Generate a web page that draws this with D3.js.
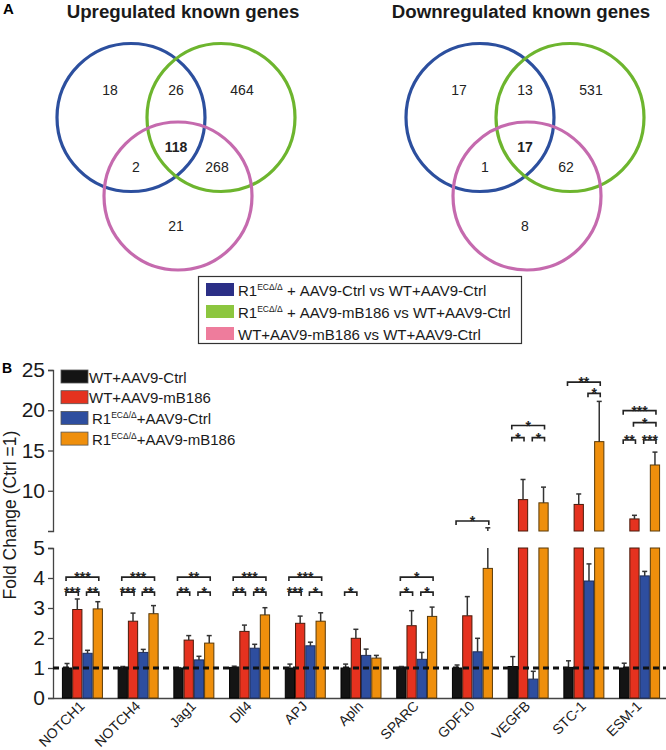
<!DOCTYPE html>
<html><head><meta charset="utf-8">
<script src="https://cdn.jsdelivr.net/npm/d3@7"></script>
<style>
body{margin:0;background:#fff;}
svg{display:block;font-family:"Liberation Sans",Arial,sans-serif;}
</style></head>
<body><svg id="c" width="666" height="750"></svg>
<script>
// ---------- Panel A data ----------
const vennTitles = ["Upregulated known genes", "Downregulated known genes"];
// region order: onlyA, AB, onlyB, ABC, AC, BC, onlyC
const vennUp = [18, 26, 464, 118, 2, 268, 21];
const vennDown = [17, 13, 531, 17, 1, 62, 8];
const vennSetColors = ["#2c4f9e", "#6db52e", "#c56aae"];
const legendANames = [
  ["R1", "ECΔ/Δ", " + AAV9-Ctrl vs WT+AAV9-Ctrl"],
  ["R1", "ECΔ/Δ", " + AAV9-mB186 vs WT+AAV9-Ctrl"],
  ["", "", "WT+AAV9-mB186 vs WT+AAV9-Ctrl"]
];
const legendAColors = ["#2b2f86", "#8cc63f", "#ee7c9c"];

// ---------- Panel B data ----------
const genes = ["NOTCH1","NOTCH4","Jag1","Dll4","APJ","Apln","SPARC","GDF10","VEGFB","STC-1","ESM-1"];
const seriesNames = [
  ["WT+AAV9-Ctrl"],
  ["WT+AAV9-mB186"],
  ["R1", "ECΔ/Δ", "+AAV9-Ctrl"],
  ["R1", "ECΔ/Δ", "+AAV9-mB186"]
];
const seriesColors = ["#141414", "#e5321f", "#2e4e9f", "#ef8f0c"];
const wtCtrl    = [1.00, 1.02, 1.00, 1.02, 1.00, 1.00, 1.02, 1.00, 1.05, 1.02, 1.00];
const wtCtrlErr = [1.15, 1.05, 1.01, 1.06, 1.13, 1.13, 1.05, 1.10, 1.38, 1.24, 1.16];
const wtMb      = [2.95, 2.56, 1.93, 2.22, 2.49, 1.99, 2.41, 2.74, 8.9, 8.3, 6.5];
const wtMbErr   = [3.30, 2.83, 2.08, 2.43, 2.73, 2.29, 2.91, 3.38, 11.4, 9.6, 6.95];
const r1Ctrl    = [1.49, 1.52, 1.27, 1.66, 1.74, 1.42, 1.29, 1.54, 0.63, 3.9, 4.07];
const r1CtrlErr = [1.59, 1.62, 1.39, 1.79, 1.86, 1.63, 1.52, 1.99, 0.89, 4.47, 4.22];
const r1Mb      = [2.97, 2.81, 1.83, 2.77, 2.56, 1.33, 2.72, 4.32, 8.5, 16.1, 13.2];
const r1MbErr   = [3.21, 3.08, 2.08, 3.01, 2.84, 1.42, 3.03, 5.4, 10.45, 21.1, 14.8];
const lowTicks = [0, 1, 2, 3, 4, 5];
const highTicks = [10, 15, 20, 25];
// significance brackets: gene, from series, to series, level (fold change), label
const sig = [
  ["NOTCH1",0,3,4.03,"***"],["NOTCH1",0,1,3.53,"***"],["NOTCH1",2,3,3.53,"**"],
  ["NOTCH4",0,3,4.03,"***"],["NOTCH4",0,1,3.53,"***"],["NOTCH4",2,3,3.53,"**"],
  ["Jag1",0,3,4.03,"**"],["Jag1",0,1,3.53,"**"],["Jag1",2,3,3.53,"*"],
  ["Dll4",0,3,4.03,"***"],["Dll4",0,1,3.53,"**"],["Dll4",2,3,3.53,"**"],
  ["APJ",0,3,4.03,"***"],["APJ",0,1,3.53,"***"],["APJ",2,3,3.53,"*"],
  ["Apln",0,1,3.53,"*"],
  ["SPARC",0,3,4.03,"*"],["SPARC",0,1,3.53,"*"],["SPARC",2,3,3.53,"*"],
  ["GDF10",0,3,6.24,"*"],
  ["VEGFB",0,3,18.1,"*"],["VEGFB",0,1,16.6,"*"],["VEGFB",2,3,16.6,"*"],
  ["STC-1",0,3,23.5,"**"],["STC-1",2,3,22.1,"*"],
  ["ESM-1",0,3,19.95,"***"],["ESM-1",1,3,18.46,"*"],["ESM-1",0,1,16.3,"**"],["ESM-1",2,3,16.3,"***"]
];

const svg = d3.select("#c");
const FONT = '"Liberation Sans",Arial,sans-serif';

// ================= Panel A =================
svg.append("text").attr("x", 3).attr("y", 14).attr("font-size", 15).attr("font-weight", "bold").text("A");
const vennCenters = [[131, 117.5], [221, 117.5], [178, 196]];
const vennR = 74;
const labelPos = [[110, 90], [176, 90], [242, 90], [176, 147], [136, 167], [217, 167], [176, 226]];
[[vennUp, 0, 183], [vennDown, 349, 521]].forEach(([vals, dx, tx], k) => {
  svg.append("text").attr("x", tx).attr("y", 18).attr("text-anchor", "middle")
    .attr("font-size", 18.7).attr("font-weight", "bold").attr("fill", "#1a1a1a").text(vennTitles[k]);
  const g = svg.append("g").attr("transform", `translate(${dx},0)`);
  g.selectAll("circle").data(vennCenters).join("circle")
    .attr("cx", d => d[0]).attr("cy", d => d[1]).attr("r", vennR)
    .attr("fill", "none").attr("stroke", (d, i) => vennSetColors[i]).attr("stroke-width", 3.2);
  g.selectAll("text").data(vals).join("text")
    .attr("x", (d, i) => labelPos[i][0]).attr("y", (d, i) => labelPos[i][1] + 5)
    .attr("text-anchor", "middle").attr("font-size", 14)
    .attr("font-weight", (d, i) => i === 3 ? "bold" : "normal").attr("fill", "#222").text(d => d);
});
// legend A
svg.append("rect").attr("x", 198.5).attr("y", 276.5).attr("width", 323).attr("height", 67)
  .attr("fill", "#fff").attr("stroke", "#333").attr("stroke-width", 1.2);
legendANames.forEach((nm, i) => {
  const y = 283 + i * 22;
  svg.append("rect").attr("x", 206).attr("y", y).attr("width", 28).attr("height", 13).attr("fill", legendAColors[i]);
  const t = svg.append("text").attr("x", 238).attr("y", y + 13).attr("font-size", 15).attr("fill", "#1a1a1a");
  if (nm[0]) {
    t.append("tspan").text(nm[0]);
    t.append("tspan").attr("font-size", 8.5).attr("dy", -6).text(nm[1]);
    t.append("tspan").attr("dy", 6).text(nm[2]);
  } else t.text(nm[2]);
});

// ================= Panel B =================
svg.append("text").attr("x", 2).attr("y", 373).attr("font-size", 14).attr("font-weight", "bold").text("B");
const yLow = d3.scaleLinear().domain([0, 5]).range([698, 548]);
const yHigh = d3.scaleLinear().domain([5, 25]).range([531, 370]);
const x = d3.scaleBand().domain(genes).range([53, 669]).paddingInner(0.264).paddingOuter(0.16);
const xs = d3.scaleBand().domain([0, 1, 2, 3]).range([0, x.bandwidth()]);
const vals = [wtCtrl, wtMb, r1Ctrl, r1Mb];
const errs = [wtCtrlErr, wtMbErr, r1CtrlErr, r1MbErr];
const strokes = ["#000", "#4a1a0a", "#1e2d5c", "#5a3a08"];

const axisColor = "#444";
function styleAxis(g) {
  g.selectAll("path,line").attr("stroke", axisColor).attr("stroke-width", 1.3);
  g.selectAll("text").attr("font-size", 21).attr("fill", "#1a1a1a").attr("font-family", FONT);
}
svg.append("g").attr("transform", "translate(53,0)")
  .call(d3.axisLeft(yLow).tickValues(lowTicks).tickFormat(d3.format("d")).tickSize(5).tickSizeOuter(5).tickPadding(3))
  .call(styleAxis);
svg.append("g").attr("transform", "translate(53,0)")
  .call(d3.axisLeft(yHigh).tickValues(highTicks).tickFormat(d3.format("d")).tickSize(5).tickSizeOuter(5).tickPadding(3))
  .call(styleAxis);
const xg = svg.append("g").attr("transform", "translate(0,698)")
  .call(d3.axisBottom(x).tickSize(0).tickSizeOuter(0).tickFormat(""));
xg.select(".domain").attr("stroke", axisColor).attr("stroke-width", 1.3);

// rotated gene labels
svg.append("g").selectAll("text").data(genes).join("text")
  .attr("text-anchor", "end").attr("font-size", 14).attr("fill", "#1a1a1a")
  .attr("transform", d => `translate(${x(d) + x.bandwidth() / 2 + 3},707) rotate(-45)`)
  .text(d => d);

svg.append("text").attr("transform", "translate(16,515) rotate(-90)").attr("text-anchor", "middle")
  .attr("font-size", 17.5).attr("fill", "#1a1a1a").text("Fold Change (Ctrl =1)");

// bars
const bars = svg.append("g");
genes.forEach((gname, gi) => {
  vals.forEach((arr, s) => {
    const v = arr[gi], bx = x(gname) + xs(s), bw = xs.bandwidth();
    const pieces = v <= 5 ? [[yLow(v), yLow(0)]] : [[yLow(5), yLow(0)], [yHigh(v), yHigh(5)]];
    pieces.forEach(([t, b]) => {
      bars.append("rect").attr("x", bx + 0.5).attr("y", t).attr("width", bw - 1).attr("height", b - t)
        .attr("fill", seriesColors[s]).attr("stroke", strokes[s]).attr("stroke-width", 1);
    });
    // error bar
    const e = errs[s][gi], cx = bx + bw / 2;
    const segs = [];
    if (v < 5) segs.push([yLow(v), yLow(Math.min(e, 5))]);
    if (e > 5) segs.push([yHigh(Math.max(v, 5)), yHigh(e)]);
    segs.forEach(([a, b]) => bars.append("line").attr("x1", cx).attr("x2", cx).attr("y1", a).attr("y2", b)
      .attr("stroke", "#333").attr("stroke-width", 1.5));
    const ey = e <= 5 ? yLow(e) : yHigh(e);
    bars.append("line").attr("x1", cx - 2.5).attr("x2", cx + 2.5).attr("y1", ey).attr("y2", ey)
      .attr("stroke", "#333").attr("stroke-width", 1.5);
  });
});

// dashed reference line at 1
svg.append("line").attr("x1", 53).attr("x2", 666).attr("y1", yLow(1)).attr("y2", yLow(1))
  .attr("stroke", "#111").attr("stroke-width", 3).attr("stroke-dasharray", "6,4");

// significance brackets
const sg = svg.append("g");
sig.forEach(([gname, a, b, lvl, lab]) => {
  const y = lvl <= 5 ? yLow(lvl) : yHigh(lvl);
  const x1 = x(gname) + xs(a) + xs.bandwidth() / 2 - 1, x2 = x(gname) + xs(b) + xs.bandwidth() / 2 + 1;
  sg.append("path").attr("d", `M${x1},${y + 4}V${y}H${x2}V${y + 4}`)
    .attr("fill", "none").attr("stroke", "#222").attr("stroke-width", 1.6);
  sg.append("text").attr("x", (x1 + x2) / 2).attr("y", y + 5).attr("text-anchor", "middle")
    .attr("font-size", 14).attr("font-weight", "bold").attr("fill", "#222").text(lab);
});

// legend B
seriesNames.forEach((nm, i) => {
  const y = 370 + i * 20.7;
  svg.append("rect").attr("x", 61).attr("y", y).attr("width", 27).attr("height", 13)
    .attr("fill", seriesColors[i]).attr("stroke", "#555").attr("stroke-width", 0.8);
  const t = svg.append("text").attr("x", 89).attr("y", y + 12.5).attr("font-size", 15).attr("fill", "#1a1a1a");
  if (nm.length === 3) {
    t.attr("x", 92);
    t.append("tspan").text(nm[0]);
    t.append("tspan").attr("font-size", 8.5).attr("dy", -6).text(nm[1]);
    t.append("tspan").attr("dy", 6).text(nm[2]);
  } else t.text(nm[0]);
});
</script></body></html>
